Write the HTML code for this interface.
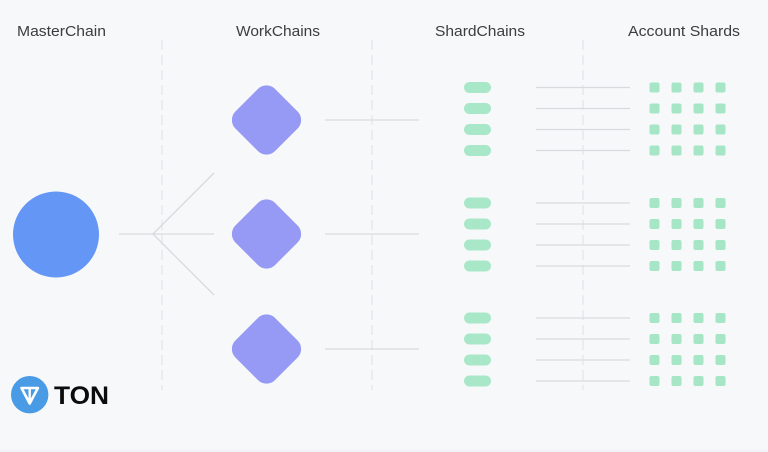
<!DOCTYPE html>
<html><head><meta charset="utf-8"><style>
html,body{margin:0;padding:0;background:#f7f8fa;}
svg{display:block;}
</style></head><body>
<svg width="768" height="452" viewBox="0 0 768 452" xmlns="http://www.w3.org/2000/svg">
<rect width="768" height="452" fill="#f7f8fa"/>
<g font-family="Liberation Sans, Arial, sans-serif" font-size="15" fill="#3d3d3d">
<text x="17" y="36" textLength="89" lengthAdjust="spacingAndGlyphs">MasterChain</text>
<text x="236" y="36" textLength="84" lengthAdjust="spacingAndGlyphs">WorkChains</text>
<text x="435" y="36" textLength="90" lengthAdjust="spacingAndGlyphs">ShardChains</text>
<text x="628" y="36" textLength="112" lengthAdjust="spacingAndGlyphs">Account Shards</text>
</g>
<g stroke="#dfe0e4" stroke-width="1" stroke-dasharray="10,5" fill="none">
<line x1="162" y1="40" x2="162" y2="390"/>
<line x1="372" y1="40" x2="372" y2="390"/>
<line x1="583" y1="40" x2="583" y2="390"/>
</g>
<g stroke="#d9dadd" stroke-width="1.3" fill="none">
<line x1="119" y1="234" x2="214" y2="234"/>
<line x1="153" y1="234" x2="214" y2="173"/>
<line x1="153" y1="234" x2="214" y2="295"/>
<line x1="325" y1="120" x2="419" y2="120"/>
<line x1="325" y1="234" x2="419" y2="234"/>
<line x1="325" y1="349" x2="419" y2="349"/>
</g>
<g stroke="#d9dadd" stroke-width="1.3">
<line x1="536" y1="87.5" x2="630" y2="87.5"/>
<line x1="536" y1="108.5" x2="630" y2="108.5"/>
<line x1="536" y1="129.5" x2="630" y2="129.5"/>
<line x1="536" y1="150.5" x2="630" y2="150.5"/>
<line x1="536" y1="203" x2="630" y2="203"/>
<line x1="536" y1="224" x2="630" y2="224"/>
<line x1="536" y1="245" x2="630" y2="245"/>
<line x1="536" y1="266" x2="630" y2="266"/>
<line x1="536" y1="318" x2="630" y2="318"/>
<line x1="536" y1="339" x2="630" y2="339"/>
<line x1="536" y1="360" x2="630" y2="360"/>
<line x1="536" y1="381" x2="630" y2="381"/>
</g>
<circle cx="56" cy="234.5" r="43" fill="#6396f5"/>
<g fill="#969af4">
<rect x="238.5" y="92" width="56" height="56" rx="12" transform="rotate(45 266.5 120)"/>
<rect x="238.5" y="206" width="56" height="56" rx="12" transform="rotate(45 266.5 234)"/>
<rect x="238.5" y="321" width="56" height="56" rx="12" transform="rotate(45 266.5 349)"/>
</g>
<g fill="#a8e8c8">
<rect x="464" y="82" width="27" height="11" rx="5.5"/>
<rect x="464" y="103" width="27" height="11" rx="5.5"/>
<rect x="464" y="124" width="27" height="11" rx="5.5"/>
<rect x="464" y="145" width="27" height="11" rx="5.5"/>
<rect x="464" y="197.5" width="27" height="11" rx="5.5"/>
<rect x="464" y="218.5" width="27" height="11" rx="5.5"/>
<rect x="464" y="239.5" width="27" height="11" rx="5.5"/>
<rect x="464" y="260.5" width="27" height="11" rx="5.5"/>
<rect x="464" y="312.5" width="27" height="11" rx="5.5"/>
<rect x="464" y="333.5" width="27" height="11" rx="5.5"/>
<rect x="464" y="354.5" width="27" height="11" rx="5.5"/>
<rect x="464" y="375.5" width="27" height="11" rx="5.5"/>
</g>
<g fill="#a6e6c6">
<rect x="649.5" y="82.5" width="10" height="10" rx="2"/><rect x="671.5" y="82.5" width="10" height="10" rx="2"/><rect x="693.5" y="82.5" width="10" height="10" rx="2"/><rect x="715.5" y="82.5" width="10" height="10" rx="2"/>
<rect x="649.5" y="103.5" width="10" height="10" rx="2"/><rect x="671.5" y="103.5" width="10" height="10" rx="2"/><rect x="693.5" y="103.5" width="10" height="10" rx="2"/><rect x="715.5" y="103.5" width="10" height="10" rx="2"/>
<rect x="649.5" y="124.5" width="10" height="10" rx="2"/><rect x="671.5" y="124.5" width="10" height="10" rx="2"/><rect x="693.5" y="124.5" width="10" height="10" rx="2"/><rect x="715.5" y="124.5" width="10" height="10" rx="2"/>
<rect x="649.5" y="145.5" width="10" height="10" rx="2"/><rect x="671.5" y="145.5" width="10" height="10" rx="2"/><rect x="693.5" y="145.5" width="10" height="10" rx="2"/><rect x="715.5" y="145.5" width="10" height="10" rx="2"/>

<rect x="649.5" y="198" width="10" height="10" rx="2"/><rect x="671.5" y="198" width="10" height="10" rx="2"/><rect x="693.5" y="198" width="10" height="10" rx="2"/><rect x="715.5" y="198" width="10" height="10" rx="2"/>
<rect x="649.5" y="219" width="10" height="10" rx="2"/><rect x="671.5" y="219" width="10" height="10" rx="2"/><rect x="693.5" y="219" width="10" height="10" rx="2"/><rect x="715.5" y="219" width="10" height="10" rx="2"/>
<rect x="649.5" y="240" width="10" height="10" rx="2"/><rect x="671.5" y="240" width="10" height="10" rx="2"/><rect x="693.5" y="240" width="10" height="10" rx="2"/><rect x="715.5" y="240" width="10" height="10" rx="2"/>
<rect x="649.5" y="261" width="10" height="10" rx="2"/><rect x="671.5" y="261" width="10" height="10" rx="2"/><rect x="693.5" y="261" width="10" height="10" rx="2"/><rect x="715.5" y="261" width="10" height="10" rx="2"/>

<rect x="649.5" y="313" width="10" height="10" rx="2"/><rect x="671.5" y="313" width="10" height="10" rx="2"/><rect x="693.5" y="313" width="10" height="10" rx="2"/><rect x="715.5" y="313" width="10" height="10" rx="2"/>
<rect x="649.5" y="334" width="10" height="10" rx="2"/><rect x="671.5" y="334" width="10" height="10" rx="2"/><rect x="693.5" y="334" width="10" height="10" rx="2"/><rect x="715.5" y="334" width="10" height="10" rx="2"/>
<rect x="649.5" y="355" width="10" height="10" rx="2"/><rect x="671.5" y="355" width="10" height="10" rx="2"/><rect x="693.5" y="355" width="10" height="10" rx="2"/><rect x="715.5" y="355" width="10" height="10" rx="2"/>
<rect x="649.5" y="376" width="10" height="10" rx="2"/><rect x="671.5" y="376" width="10" height="10" rx="2"/><rect x="693.5" y="376" width="10" height="10" rx="2"/><rect x="715.5" y="376" width="10" height="10" rx="2"/>
</g>
<circle cx="29.7" cy="394.7" r="18.7" fill="#4a9be6"/>
<path d="M21.5 388 L37.9 388 L29.7 403.5 Z" fill="none" stroke="#ffffff" stroke-width="2.6" stroke-linejoin="round"/>
<line x1="29.7" y1="388" x2="29.7" y2="403" stroke="#ffffff" stroke-width="2.4"/>
<text x="54" y="404" font-family="Liberation Sans, Arial, sans-serif" font-weight="bold" font-size="25" fill="#0c0c0c" textLength="55" lengthAdjust="spacingAndGlyphs">TON</text>
<line x1="0" y1="451" x2="768" y2="451" stroke="#eceef1" stroke-width="1"/>
</svg>
</body></html>
